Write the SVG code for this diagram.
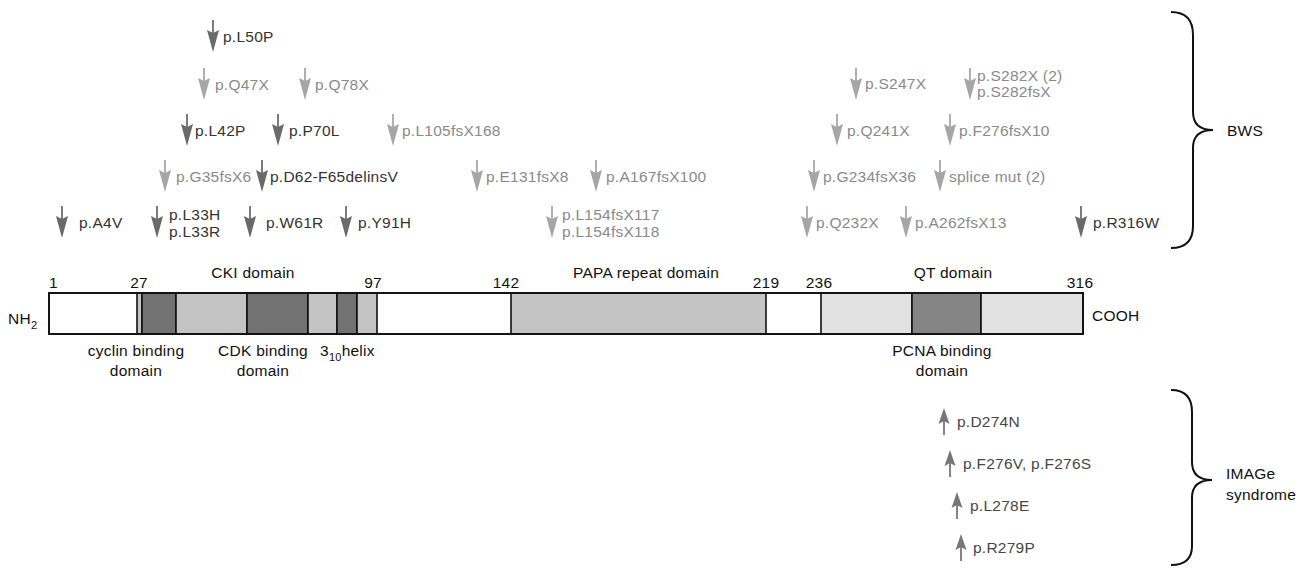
<svg xmlns="http://www.w3.org/2000/svg" xmlns:xlink="http://www.w3.org/1999/xlink" width="1307" height="568" viewBox="0 0 1307 568">
<style>
text{font-family:"Liberation Sans",Arial,sans-serif;font-size:15.5px;letter-spacing:0.25px}
.dk{fill:#333}
.lt{fill:#8a8a8a}
.up{fill:#474747}
.lbl{fill:#111}
.seg{stroke:#111;stroke-width:1.6}
.w{fill:#fff}
.l{fill:#c4c4c4}
.d{fill:#727272}
.q{fill:#e2e2e2}
.qd{fill:#858585}
.brace{fill:none;stroke:#111;stroke-width:2}
</style>
<defs>
<g id="ad"><line x1="0" y1="-22" x2="0" y2="-9" stroke="#333" stroke-width="1.3"/><polygon points="-6,-12 0,-9 6,-12 0,10" fill="#6a6a6a"/></g>
<g id="al"><line x1="0" y1="-22" x2="0" y2="-9" stroke="#858585" stroke-width="1.3"/><polygon points="-6,-12 0,-9 6,-12 0,10" fill="#a6a6a6"/></g>
<g id="au"><line x1="0" y1="-6" x2="0" y2="8" stroke="#444" stroke-width="1.3"/><polygon points="-5.5,-3 0,-6 5.5,-3 0,-19" fill="#767676"/></g>
</defs>

<g id="protein">
<rect class="seg w" x="49" y="293" width="1034" height="41"/>
<rect class="seg l" x="137" y="293" width="5" height="41"/>
<rect class="seg d" x="142" y="293" width="34" height="41"/>
<rect class="seg l" x="176" y="293" width="71" height="41"/>
<rect class="seg d" x="247" y="293" width="61" height="41"/>
<rect class="seg l" x="308" y="293" width="29" height="41"/>
<rect class="seg d" x="337" y="293" width="20" height="41"/>
<rect class="seg l" x="357" y="293" width="20" height="41"/>
<rect class="seg l" x="511" y="293" width="255" height="41"/>
<rect class="seg q" x="821" y="293" width="91" height="41"/>
<rect class="seg qd" x="912" y="293" width="69" height="41"/>
<rect class="seg q" x="981" y="293" width="102" height="41"/>
<rect x="49" y="293" width="1034" height="41" fill="none" stroke="#111" stroke-width="1.8"/>
</g>

<g id="protein-labels" class="lbl">
<text x="49" y="288">1</text>
<text x="139" y="288" text-anchor="middle">27</text>
<text x="253" y="278" text-anchor="middle">CKI domain</text>
<text x="373" y="288" text-anchor="middle">97</text>
<text x="506" y="288" text-anchor="middle">142</text>
<text x="646" y="278" text-anchor="middle">PAPA repeat domain</text>
<text x="766" y="288" text-anchor="middle">219</text>
<text x="819" y="288" text-anchor="middle">236</text>
<text x="953" y="278" text-anchor="middle">QT domain</text>
<text x="1080" y="288" text-anchor="middle">316</text>
<text x="8" y="324">NH<tspan font-size="11" dy="5">2</tspan></text>
<text x="1092" y="321">COOH</text>
<text x="136" y="356" text-anchor="middle">cyclin binding</text>
<text x="136" y="376" text-anchor="middle">domain</text>
<text x="263" y="356" text-anchor="middle">CDK binding</text>
<text x="263" y="376" text-anchor="middle">domain</text>
<text x="320" y="356">3<tspan font-size="11" dy="5">10</tspan><tspan dy="-5">helix</tspan></text>
<text x="942" y="356" text-anchor="middle">PCNA binding</text>
<text x="942" y="376" text-anchor="middle">domain</text>
</g>

<g id="connectors">
<path id="brace-bws" class="brace" d="M1171,12 C1186,12 1193,20 1193,35 L1193,112 C1193,124 1200,130 1213,130 C1200,130 1193,136 1193,148 L1193,226 C1193,240 1186,248 1171,248"/>
<path id="brace-image" class="brace" d="M1171,390 C1186,390 1192,398 1192,412 L1192,462 C1192,474 1199,480 1212,480 C1199,480 1192,486 1192,498 L1192,546 C1192,558 1186,565 1171,565"/>
</g>

<g id="group-labels" class="lbl">
<text x="1227" y="136">BWS</text>
<text x="1226" y="479" font-size="14">IMAGe</text>
<text x="1226" y="500" font-size="14">syndrome</text>
</g>

<g id="m-L50P"><use xlink:href="#ad" x="213" y="42"/><text class="dk" x="223" y="42">p.L50P</text></g>
<g id="m-Q47X"><use xlink:href="#al" x="204" y="90"/><text class="lt" x="215" y="90">p.Q47X</text></g>
<g id="m-Q78X"><use xlink:href="#al" x="305" y="90"/><text class="lt" x="315" y="90">p.Q78X</text></g>
<g id="m-S247X"><use xlink:href="#al" x="856" y="90"/><text class="lt" x="865" y="89">p.S247X</text></g>
<g id="m-S282X"><use xlink:href="#al" x="970" y="90"/><text class="lt" x="977" y="81">p.S282X (2)</text><text class="lt" x="977" y="97">p.S282fsX</text></g>

<g id="m-L42P"><use xlink:href="#ad" x="187" y="136"/><text class="dk" x="195" y="136">p.L42P</text></g>
<g id="m-P70L"><use xlink:href="#ad" x="278" y="136"/><text class="dk" x="289" y="136">p.P70L</text></g>
<g id="m-L105fsX168"><use xlink:href="#al" x="393" y="136"/><text class="lt" x="402" y="136">p.L105fsX168</text></g>
<g id="m-Q241X"><use xlink:href="#al" x="837" y="136"/><text class="lt" x="847" y="136">p.Q241X</text></g>
<g id="m-F276fsX10"><use xlink:href="#al" x="950" y="136"/><text class="lt" x="959" y="136">p.F276fsX10</text></g>

<g id="m-G35fsX6"><use xlink:href="#al" x="165" y="182"/><text class="lt" x="176" y="182">p.G35fsX6</text></g>
<g id="m-D62-F65delinsV"><use xlink:href="#ad" x="262" y="182"/><text class="dk" x="270" y="182">p.D62-F65delinsV</text></g>
<g id="m-E131fsX8"><use xlink:href="#al" x="477" y="182"/><text class="lt" x="486" y="182">p.E131fsX8</text></g>
<g id="m-A167fsX100"><use xlink:href="#al" x="596" y="182"/><text class="lt" x="606" y="182">p.A167fsX100</text></g>
<g id="m-G234fsX36"><use xlink:href="#al" x="814" y="182"/><text class="lt" x="823" y="182">p.G234fsX36</text></g>
<g id="m-splice"><use xlink:href="#al" x="940" y="182"/><text class="lt" x="949" y="182">splice mut (2)</text></g>

<g id="m-A4V"><use xlink:href="#ad" x="62" y="228"/><text class="dk" x="79" y="228">p.A4V</text></g>
<g id="m-L33H"><use xlink:href="#ad" x="157" y="228"/><text class="dk" x="169" y="220">p.L33H</text><text class="dk" x="169" y="237">p.L33R</text></g>
<g id="m-W61R"><use xlink:href="#ad" x="250" y="228"/><text class="dk" x="266" y="228">p.W61R</text></g>
<g id="m-Y91H"><use xlink:href="#ad" x="346" y="228"/><text class="dk" x="358" y="228">p.Y91H</text></g>
<g id="m-L154fs"><use xlink:href="#al" x="552" y="228"/><text class="lt" x="562" y="220">p.L154fsX117</text><text class="lt" x="562" y="237">p.L154fsX118</text></g>
<g id="m-Q232X"><use xlink:href="#al" x="807" y="228"/><text class="lt" x="816" y="228">p.Q232X</text></g>
<g id="m-A262fsX13"><use xlink:href="#al" x="906" y="228"/><text class="lt" x="915" y="228">p.A262fsX13</text></g>
<g id="m-R316W"><use xlink:href="#ad" x="1081" y="228"/><text class="dk" x="1093" y="228">p.R316W</text></g>

<g id="i-D274N"><use xlink:href="#au" x="944" y="427"/><text class="up" x="957" y="427">p.D274N</text></g>
<g id="i-F276V"><use xlink:href="#au" x="950" y="469"/><text class="up" x="963" y="469">p.F276V, p.F276S</text></g>
<g id="i-L278E"><use xlink:href="#au" x="957" y="511"/><text class="up" x="970" y="511">p.L278E</text></g>
<g id="i-R279P"><use xlink:href="#au" x="961" y="553"/><text class="up" x="973" y="553">p.R279P</text></g>
</svg>
